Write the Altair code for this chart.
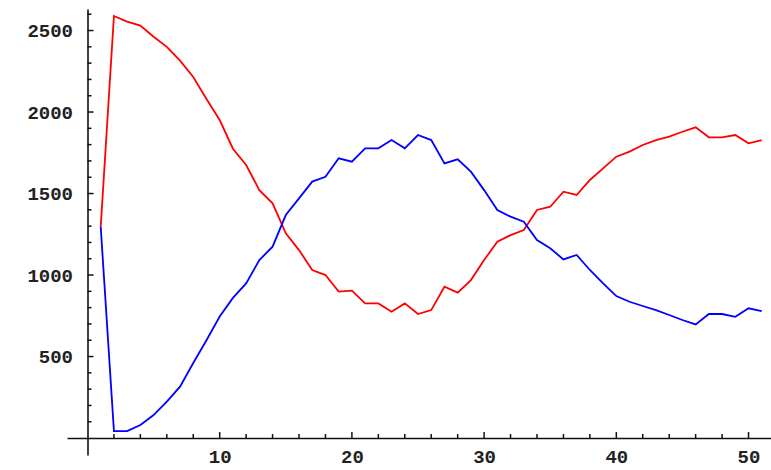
import altair as alt
import pandas as pd

# ---- data ----
steps = list(range(1, 52))
red_vals = [1296, 2589, 2555, 2530, 2462, 2400, 2315, 2215, 2080, 1951,
            1775, 1675, 1521, 1440, 1256, 1153, 1031, 1000, 898, 904,
            826, 826, 775, 826, 761, 785, 928, 892, 969, 1092,
            1204, 1245, 1276, 1399, 1419, 1511, 1491, 1583, 1654, 1726,
            1757, 1798, 1828, 1849, 1879, 1906, 1845, 1845, 1859, 1808, 1828]
blue_vals = [1296, 43, 43, 80, 141, 223, 315, 460, 600, 745,
             860, 949, 1092, 1174, 1368, 1470, 1573, 1603, 1716, 1695,
             1777, 1777, 1828, 1777, 1859, 1828, 1685, 1710, 1634, 1521,
             1399, 1358, 1327, 1215, 1164, 1096, 1123, 1031, 949, 871,
             836, 810, 785, 755, 724, 697, 761, 761, 744, 796, 779]

x_major = [10, 20, 30, 40, 50]
x_minor = [2, 4, 6, 8, 12, 14, 16, 18, 22, 24, 26, 28, 32, 34, 36, 38,
           42, 44, 46, 48]
y_major = [500, 1000, 1500, 2000, 2500]
y_minor = [100, 200, 300, 400, 600, 700, 800, 900, 1100, 1200, 1300, 1400,
           1600, 1700, 1800, 1900, 2100, 2200, 2300, 2400, 2600]

rows = []
for s, vals in (("red", red_vals), ("blue", blue_vals)):
    for xv, yv in zip(steps, vals):
        rows.append({"series": s, "t": xv, "v": yv})
df = pd.DataFrame(rows)

xscale = alt.Scale(domain=[-1.55, 51.7], nice=False, zero=False)
yscale = alt.Scale(domain=[-104, 2632], nice=False, zero=False)

FONT = "Liberation Mono"

lines = alt.Chart(df).mark_line(strokeWidth=1.8, interpolate="linear").encode(
    x=alt.X("t:Q", scale=xscale,
            axis=alt.Axis(values=x_major, ticks=False, grid=False, title=None,
                          format="d",
                          offset=-17, domainColor="#111", domainWidth=1.6,
                          labelFont=FONT, labelFontSize=19, labelFontWeight="bold",
                          labelColor="#222", labelPadding=9, labelFlush=False)),
    y=alt.Y("v:Q", scale=yscale,
            axis=alt.Axis(values=y_major, ticks=False, grid=False, title=None,
                          format="d",
                          offset=-20.5, domainColor="#111", domainWidth=1.6,
                          labelFont=FONT, labelFontSize=19, labelFontWeight="bold",
                          labelColor="#222", labelPadding=15, labelFlush=False)),
    color=alt.Color("series:N",
                    scale=alt.Scale(domain=["red", "blue"], range=["#ff0000", "#0000ff"]),
                    legend=None),
    detail="series:N",
)

ymaj = alt.Chart(pd.DataFrame({"v": y_major})).mark_rule(
    color="#111", strokeWidth=1.5, x2Offset=6).encode(
    x=alt.datum(0, scale=xscale), x2=alt.datum(0), y=alt.Y("v:Q", scale=yscale))
ymin = alt.Chart(pd.DataFrame({"v": y_minor})).mark_rule(
    color="#111", strokeWidth=1.5, x2Offset=4).encode(
    x=alt.datum(0, scale=xscale), x2=alt.datum(0), y=alt.Y("v:Q", scale=yscale))
xmaj = alt.Chart(pd.DataFrame({"t": x_major})).mark_rule(
    color="#111", strokeWidth=1.5, y2Offset=-6).encode(
    y=alt.datum(0, scale=yscale), y2=alt.datum(0), x=alt.X("t:Q", scale=xscale))
xmin = alt.Chart(pd.DataFrame({"t": x_minor})).mark_rule(
    color="#111", strokeWidth=1.5, y2Offset=-4).encode(
    y=alt.datum(0, scale=yscale), y2=alt.datum(0), x=alt.X("t:Q", scale=xscale))

chart = alt.layer(lines, ymaj, ymin, xmaj, xmin).properties(
    width=704, height=446,
    autosize=alt.AutoSizeParams(type="none"),
    padding={"left": 67, "top": 9, "right": 0, "bottom": 15},
    background="white",
).configure_view(stroke=None)

chart.save("out.html", embed_options={"renderer": "svg", "actions": False})
